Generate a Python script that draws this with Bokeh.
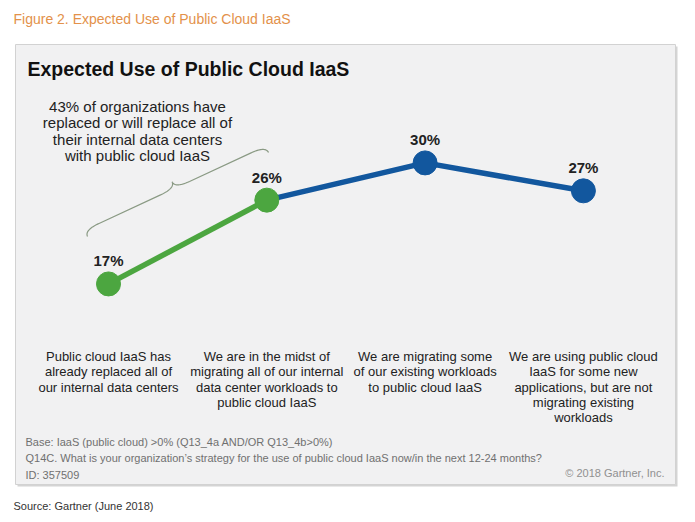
import numpy as np
from bokeh.plotting import figure
from bokeh.models import Range1d
from bokeh.core.properties import value
from bokeh.embed import file_html
from bokeh.resources import INLINE

# ---------------- data ----------------
categories = [
    ["Public cloud IaaS has", "already replaced all of", "our internal data centers"],
    ["We are in the midst of", "migrating all of our internal", "data center workloads to", "public cloud IaaS"],
    ["We are migrating some", "of our existing workloads", "to public cloud IaaS"],
    ["We are using public cloud", "IaaS for some new", "applications, but are not", "migrating existing", "workloads"],
]
values = [17, 26, 30, 27]
value_labels = ["17%", "26%", "30%", "27%"]
green_idx = [0, 1]
blue_idx = [1, 2, 3]

fig_title = "Figure 2. Expected Use of Public Cloud IaaS"
chart_title = "Expected Use of Public Cloud IaaS"
callout = ["43% of organizations have", "replaced or will replace all of",
           "their internal data centers", "with public cloud IaaS"]
footnotes = ["Base: IaaS (public cloud) >0% (Q13_4a AND/OR Q13_4b>0%)",
             "Q14C. What is your organization\u2019s strategy for the use of public cloud IaaS now/in the next 12-24 months?",
             "ID: 357509"]
copyright_txt = "\u00a9 2018 Gartner, Inc."
source_txt = "Source: Gartner (June 2018)"

GREEN = "#4ca640"
BLUE = "#12579e"
FONT = value("Liberation Sans")

# ---------------- scales ----------------
W, H = 695, 522
SX = 158.3          # px per category step
X0PX = 108.0        # px of first category
SY = 9.31           # px per percentage point
Y0PX = 441.7        # px (from top) of 0%
xs = -X0PX / SX
ys_top = Y0PX / SY
ys_bot = (Y0PX - H) / SY

def X(px):
    return xs + px / SX

def Y(py):
    return (Y0PX - py) / SY

p = figure(width=W, height=H, output_backend="svg", toolbar_location=None,
           x_range=Range1d(xs, xs + W / SX), y_range=Range1d(ys_bot, ys_top),
           min_border=0, outline_line_color=None, background_fill_color="white",
           border_fill_color="white")
p.axis.visible = False
p.grid.visible = False

# panel with shadow
p.quad(left=[X(17)], right=[X(677)], top=[Y(46)], bottom=[Y(486)],
       fill_color="#d4d4d4", line_color=None)
p.quad(left=[X(15)], right=[X(675)], top=[Y(44)], bottom=[Y(484)],
       fill_color="#f1f1f2", line_color="#d2d2d2", line_width=1)

# texts outside panel
p.text(x=[X(13)], y=[Y(18)], text=[fig_title], text_font=FONT, text_font_size="14px",
       text_color="#e3914a", text_baseline="middle", text_align="left")
p.text(x=[X(13)], y=[Y(505)], text=[source_txt], text_font=FONT, text_font_size="11px",
       text_color="#333333", text_baseline="middle", text_align="left")

# chart title
p.text(x=[X(27)], y=[Y(68)], text=[chart_title], text_font=FONT, text_font_size="19.5px",
       text_font_style="bold", text_color="#111111", text_baseline="middle", text_align="left")

# callout text
cy = [106, 122, 139, 155]
p.text(x=[X(137)] * len(callout), y=[Y(v) for v in cy], text=callout, text_font=FONT,
       text_font_size="15px", text_color="#222222", text_baseline="middle", text_align="center")

# curly brace
A = np.array([87.0, 236.0])
B = np.array([268.0, 152.0])
d = B - A
L = np.hypot(*d)
u = d / L
n = np.array([u[1], -u[0]])  # toward upper-left
h = 14.0
t = np.linspace(0, 1, 30)

def quad_b(p0, c, p1):
    return ((1 - t) ** 2)[:, None] * p0 + (2 * (1 - t) * t)[:, None] * c + (t ** 2)[:, None] * p1

segs = [
    quad_b(np.array([0, 0]), np.array([0, 0.5 * h]), np.array([0.08 * L, 0.5 * h])),
    np.array([[0.08 * L, 0.5 * h], [0.42 * L, 0.5 * h]]),
    quad_b(np.array([0.42 * L, 0.5 * h]), np.array([0.5 * L, 0.5 * h]), np.array([0.5 * L, h])),
    quad_b(np.array([0.5 * L, h]), np.array([0.5 * L, 0.5 * h]), np.array([0.58 * L, 0.5 * h])),
    np.array([[0.58 * L, 0.5 * h], [0.92 * L, 0.5 * h]]),
    quad_b(np.array([0.92 * L, 0.5 * h]), np.array([L, 0.5 * h]), np.array([L, 0])),
]
loc = np.vstack(segs)
pts = A[None, :] + loc[:, :1] * u[None, :] + loc[:, 1:2] * n[None, :]
p.line(x=[X(v) for v in pts[:, 0]], y=[Y(v) for v in pts[:, 1]],
       line_color="#8a9a84", line_width=1.2)

# data lines
p.line(x=blue_idx, y=[values[i] for i in blue_idx], line_color=BLUE, line_width=5.5)
p.line(x=green_idx, y=[values[i] for i in green_idx], line_color=GREEN, line_width=5.5)
mcolors = [GREEN, GREEN, BLUE, BLUE]
p.scatter(x=list(range(len(values))), y=values, size=24, fill_color=mcolors, line_color=mcolors)

# value labels (offset above points)
p.text(x=list(range(len(values))), y=values, text=value_labels, y_offset=-23,
       text_font=FONT, text_font_size="15px", text_font_style="bold", text_color="#222222",
       text_baseline="middle", text_align="center")

# category labels
lx, ly, lt = [], [], []
for i, lines in enumerate(categories):
    for k, line in enumerate(lines):
        lx.append(i)
        ly.append(Y(356 + 15.3 * k))
        lt.append(line)
p.text(x=lx, y=ly, text=lt, text_font=FONT, text_font_size="13px", text_color="#222222",
       text_baseline="middle", text_align="center")

# footnotes
fy = [441, 457, 474]
p.text(x=[X(25)] * 3, y=[Y(v) for v in fy], text=footnotes, text_font=FONT, text_font_size="11px",
       text_color="#707070", text_baseline="middle", text_align="left")
p.text(x=[X(664)], y=[Y(472)], text=[copyright_txt], text_font=FONT, text_font_size="11px",
       text_color="#909090", text_baseline="middle", text_align="right")

open("out.html", "w").write(file_html(p, INLINE))
